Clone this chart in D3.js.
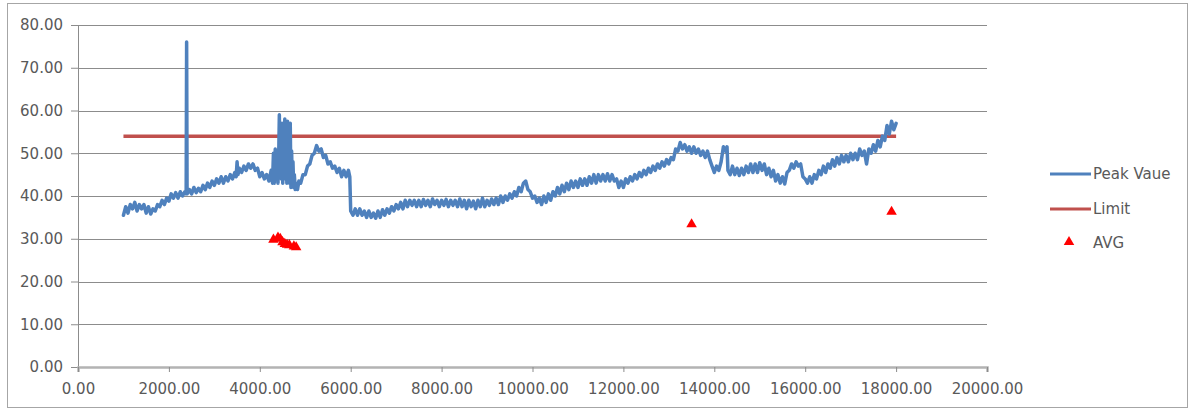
<!DOCTYPE html>
<html><head><meta charset="utf-8">
<script src="https://cdn.jsdelivr.net/npm/d3@7"></script>
<style>
html,body{margin:0;padding:0;background:#fff;}
text{font-family:"DejaVu Sans",sans-serif;}
</style></head>
<body><svg id="c" width="1191" height="411"></svg>
<script>
const yTicks = [0,10,20,30,40,50,60,70,80];
const xTicks = [0,2000,4000,6000,8000,10000,12000,14000,16000,18000,20000];
const limitValue = [[1000,54],[18000,54]];
const avgPoints = [[4300,29.8],[4400,30.3],[4450,30.0],[4500,29.2],[4550,28.8],[4600,28.6],[4650,28.5],[4750,28.2],[4800,28.0],[13500,33.4],[17900,36.3]];
const peakValue = [
[1000,35.5],[1050,37.5],[1100,36],[1150,38],[1200,37],[1250,38.5],[1300,36.5],[1350,38],[1400,37],[1450,38],
[1500,36],[1550,37.5],[1600,35.8],[1650,37],[1700,36.5],[1750,38],[1800,37.5],[1850,39],[1900,38],[1950,39.5],
[2000,38.8],[2050,40.5],[2100,39.5],[2150,40.8],[2200,39.5],[2250,41],[2300,40],[2350,41],[2380,40.5],[2390,76],
[2400,40.5],[2450,41.5],[2500,40.5],[2550,42],[2600,40.8],[2650,41.8],[2700,41],[2750,42.5],[2800,41.5],[2850,43],
[2900,42],[2950,43.5],[3000,42.5],[3050,44],[3100,43],[3150,44.5],[3200,43],[3250,44.5],[3300,43.5],[3350,45],
[3400,44],[3450,45.5],[3480,44.5],[3500,48],[3520,45],[3550,46.5],[3600,45.5],[3650,47],[3700,46],[3750,47.5],
[3800,46.5],[3850,47.5],[3900,46],[3950,46.5],[4000,44.5],[4050,45.5],[4100,44],[4150,45],[4200,43.5],[4250,46],
[4280,43],[4300,50],[4320,43],[4340,51],[4360,44],[4380,49],[4400,43],[4420,52],[4430,59],[4445,45],
[4460,55],[4475,44],[4490,57],[4505,43],[4520,52],[4535,44],[4550,58],[4565,45],[4580,56],[4595,43],
[4610,57.5],[4625,46],[4640,55],[4655,43],[4670,57],[4685,42],[4700,50.5],[4715,43],[4730,48],[4745,42],
[4760,45],[4780,41.5],[4800,43],[4830,41.5],[4860,43.5],[4900,43],[4950,45],[5000,45],[5050,47],[5100,47.5],
[5150,49.5],[5200,50],[5250,51.8],[5300,50.5],[5350,51],[5400,49],[5450,49.5],[5500,47.5],[5550,48],[5600,46.5],
[5650,47],[5700,45.5],[5750,46.5],[5800,44.5],[5850,46],[5900,44.5],[5950,46],[5980,44.5],[6000,36.5],[6050,35.5],
[6100,37],[6150,35.5],[6200,37],[6250,35.5],[6300,36.5],[6350,35],[6400,36.5],[6450,35],[6500,36],[6550,34.8],
[6600,36.5],[6650,35],[6700,36.8],[6750,35.5],[6800,37],[6850,36],[6900,37.5],[6950,36.5],[7000,38],[7050,37],
[7100,38.5],[7150,37],[7200,39],[7250,37.5],[7300,39],[7350,37.8],[7400,39],[7450,37.5],[7500,39],[7550,37.5],
[7600,39.2],[7650,37.8],[7700,39],[7750,37.5],[7800,39.3],[7850,38],[7900,39],[7950,37.5],[8000,39],[8050,37.8],
[8100,39.2],[8150,37.5],[8200,39],[8250,37.8],[8300,39],[8350,37.5],[8400,39.3],[8450,37.5],[8500,39],[8550,37],
[8600,39],[8650,37.5],[8700,38.8],[8750,37],[8800,39],[8850,37.5],[8900,39.5],[8950,37.5],[9000,39],[9050,37.8],
[9100,39.3],[9150,38],[9200,39.5],[9250,38],[9300,40],[9350,38.5],[9400,40],[9450,39],[9500,40.5],[9550,39.5],
[9600,41],[9650,40],[9700,42],[9750,41],[9800,43],[9850,43.5],[9900,41.5],[9950,41],[10000,39.5],[10050,40],
[10100,38.5],[10150,39.5],[10200,38],[10250,40],[10300,38.5],[10350,40.5],[10400,39],[10450,41],[10500,40],[10550,42],
[10600,40.5],[10650,42.5],[10700,41],[10750,43],[10800,41.5],[10850,43.5],[10900,42],[10950,43.5],[11000,42],[11050,44],
[11100,42.5],[11150,44],[11200,42.5],[11250,44.5],[11300,43],[11350,45],[11400,43],[11450,45],[11500,43.5],[11550,45],
[11600,43.5],[11650,45.2],[11700,43.5],[11750,45],[11800,43.5],[11850,44],[11900,42],[11950,43.5],[12000,42],[12050,44],
[12100,43],[12150,44.5],[12200,43.5],[12250,45],[12300,44],[12350,45.5],[12400,44.5],[12450,46],[12500,45],[12550,46.5],
[12600,45.5],[12650,47],[12700,46],[12750,47.5],[12800,46.5],[12850,48],[12900,47],[12950,48.5],[13000,47.5],[13050,49],
[13100,48.5],[13150,51],[13200,50.5],[13250,52.5],[13300,51],[13350,52],[13400,50.5],[13450,51.5],[13500,50],[13550,51.5],
[13600,50],[13650,51],[13700,49.5],[13750,50.5],[13800,49],[13850,50.5],[13900,48.5],[13950,47],[14000,45.5],[14050,47],
[14100,46],[14150,48],[14200,51.5],[14250,50.5],[14280,51.5],[14300,46],[14350,45],[14400,47],[14450,45],[14500,46.5],
[14550,44.8],[14600,46.5],[14650,45],[14700,47],[14750,45.5],[14800,47.5],[14850,45.5],[14900,47.5],[14950,45.5],[15000,47.8],
[15050,46],[15100,47.5],[15150,45],[15200,46.5],[15250,44.5],[15300,46],[15350,43.5],[15400,45],[15450,43],[15500,44.5],
[15550,42.8],[15600,45.5],[15650,46],[15700,47.5],[15750,46.5],[15800,48],[15850,47],[15900,47.5],[15950,44.5],[16000,44],
[16050,43],[16100,44.5],[16150,43],[16200,45],[16250,44],[16300,46],[16350,45],[16400,47],[16450,45.5],[16500,47.5],
[16550,46.5],[16600,48.5],[16650,47],[16700,49],[16750,47.5],[16800,49.5],[16850,48],[16900,49.5],[16950,48],[17000,50],
[17050,48.5],[17100,50],[17150,48.5],[17200,51],[17250,49.5],[17300,50.5],[17350,47.5],[17400,51],[17450,50],[17500,52],
[17550,50.5],[17600,53],[17650,51.5],[17700,54],[17750,53],[17800,56.5],[17850,54.5],[17900,57.5],[17950,55.5],[18000,57]
];

const svg = d3.select("#c");
const x = d3.scaleLinear().domain([0,20000]).range([78,987]);
const y = d3.scaleLinear().domain([0,80]).range([367,25]);
const textColor = "#595959";

// outer frame
svg.append("rect").attr("x",7.5).attr("y",3.5).attr("width",1180).attr("height",404)
  .attr("fill","none").attr("stroke","#a6a6a6").attr("stroke-width",1);

// gridlines
svg.append("g").selectAll("line").data(yTicks.filter(d=>d>0)).join("line")
  .attr("x1",x(0)).attr("x2",x(20000))
  .attr("y1",d=>Math.round(y(d))+0.5).attr("y2",d=>Math.round(y(d))+0.5)
  .attr("stroke","#8c8c8c").attr("stroke-width",1);

// y axis
const gy = svg.append("g").attr("transform",`translate(${x(0)},0)`)
  .call(d3.axisLeft(y).tickValues(yTicks).tickFormat(d3.format(".2f")).tickSize(7).tickPadding(8));
gy.select(".domain").attr("stroke","#8c8c8c");
gy.selectAll(".tick line").attr("stroke","#8c8c8c");
gy.selectAll("text").attr("fill",textColor).style("font-size","15px");

// x axis
const gx = svg.append("g").attr("transform",`translate(0,${y(0)})`)
  .call(d3.axisBottom(x).tickValues(xTicks).tickFormat(d3.format(".2f")).tickSize(5).tickPadding(11));
gx.select(".domain").attr("stroke","#b3b3b3").attr("stroke-width",2.5);
gx.selectAll(".tick line").attr("stroke","#8c8c8c");
gx.selectAll("text").attr("fill",textColor).style("font-size","15px");

// limit
const line = d3.line().x(d=>x(d[0])).y(d=>y(d[1]));
svg.append("path").datum(limitValue).attr("d",line)
  .attr("fill","none").attr("stroke","#c0504d").attr("stroke-width",3.5);

// peak value
svg.append("path").datum(peakValue).attr("d",line)
  .attr("fill","none").attr("stroke","#4f81bd").attr("stroke-width",3.5)
  .attr("stroke-linejoin","round").attr("stroke-linecap","round");

// avg triangles
const tri = d3.symbol().type(d3.symbolTriangle).size(48);
svg.append("g").selectAll("path").data(avgPoints).join("path")
  .attr("d",tri).attr("transform",d=>`translate(${x(d[0])},${y(d[1])})`)
  .attr("fill","#ff0000");

// legend
const lg = svg.append("g");
lg.append("line").attr("x1",1050).attr("x2",1091).attr("y1",174).attr("y2",174)
  .attr("stroke","#4f81bd").attr("stroke-width",3.2);
lg.append("text").attr("x",1093).attr("y",179).text("Peak Vaue").attr("fill",textColor).style("font-size","15px");
lg.append("line").attr("x1",1050).attr("x2",1091).attr("y1",209).attr("y2",209)
  .attr("stroke","#c0504d").attr("stroke-width",3.2);
lg.append("text").attr("x",1093).attr("y",214).text("Limit").attr("fill",textColor).style("font-size","15px");
lg.append("path").attr("d",tri).attr("transform","translate(1069,242)").attr("fill","#ff0000");
lg.append("text").attr("x",1093).attr("y",248).text("AVG").attr("fill",textColor).style("font-size","15px");
</script></body></html>
